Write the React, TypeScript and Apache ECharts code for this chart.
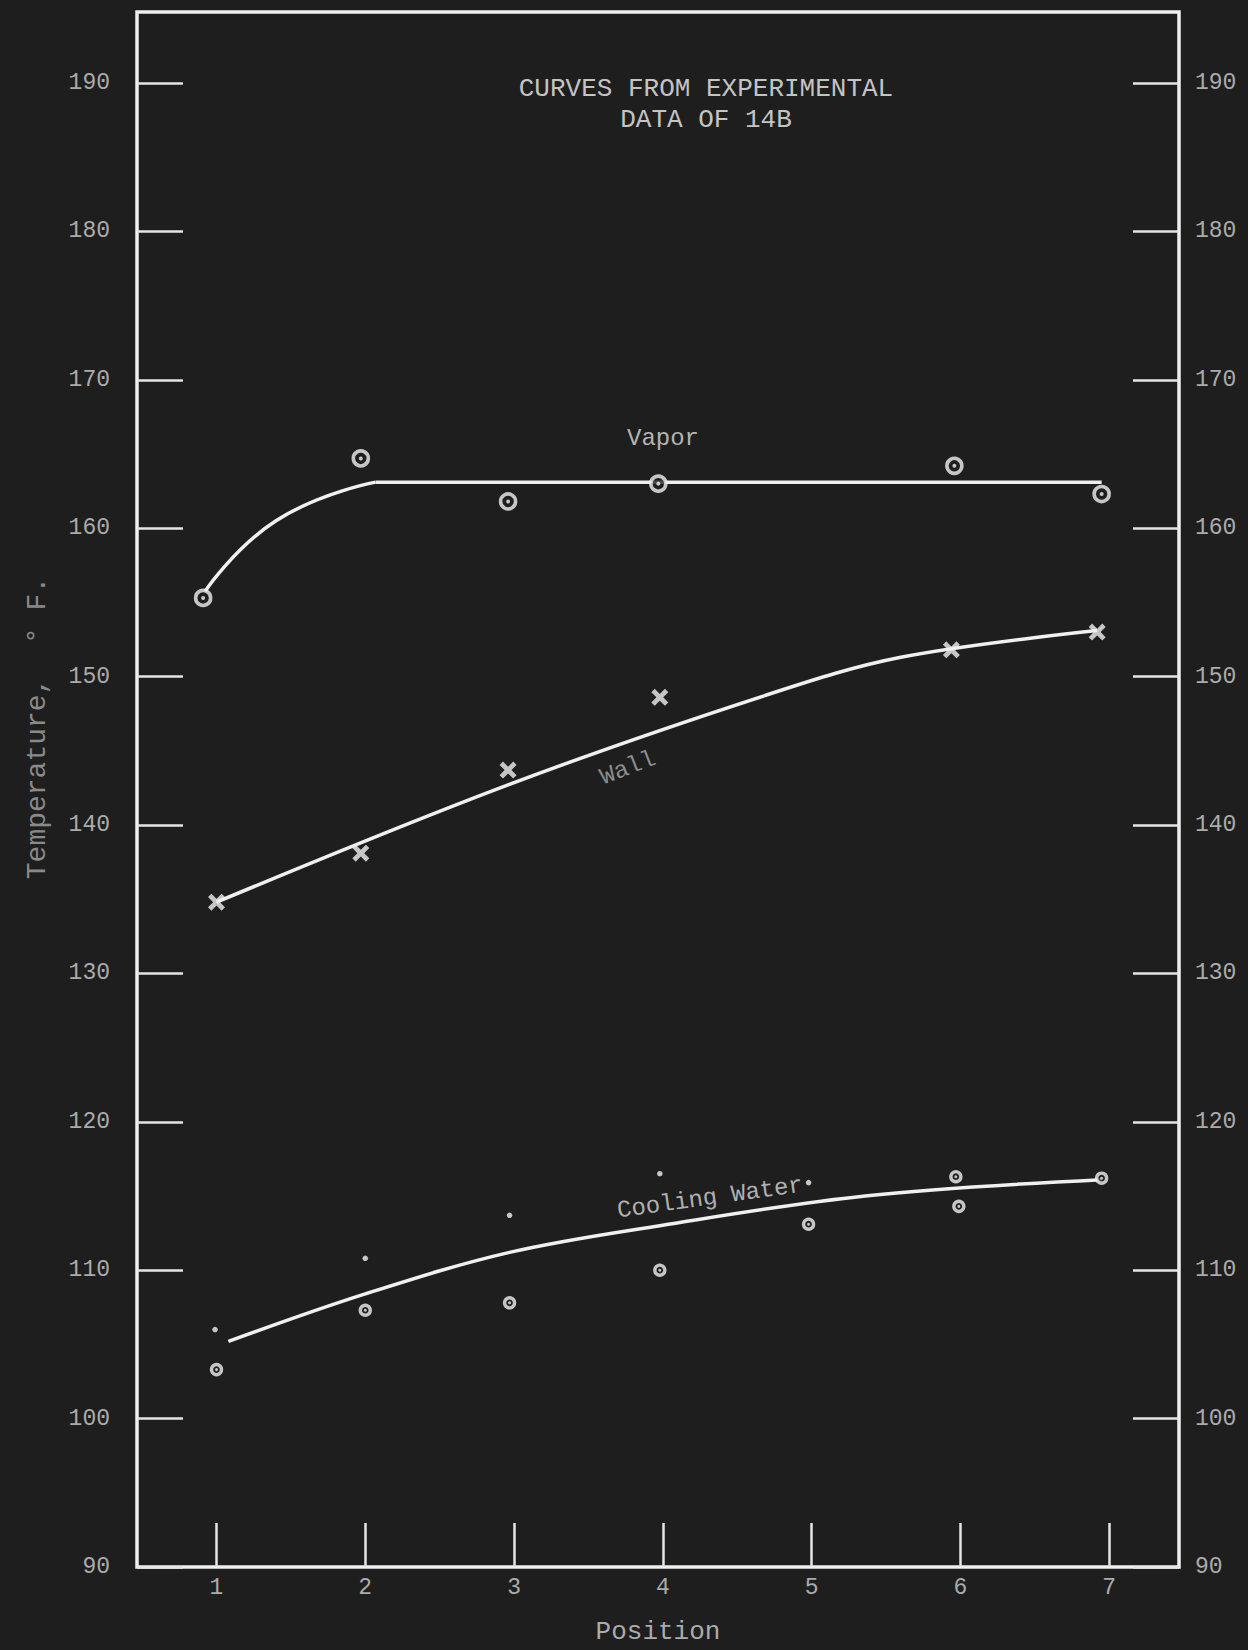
import React, { useEffect, useRef } from "react";
import * as echarts from "echarts";

// ---- tick labels ----
const positionTicks = [1, 2, 3, 4, 5, 6, 7];
const temperatureTicks = [90, 100, 110, 120, 130, 140, 150, 160, 170, 180, 190];

// ---- observed points [position, temperature °F] ----
const vaporPoints = [
  [0.91, 155.3],
  [1.97, 164.7],
  [2.96, 161.8],
  [3.97, 163.0],
  [5.96, 164.2],
  [6.95, 162.3],
];
const wallPoints = [
  [1.0, 134.8],
  [1.97, 138.1],
  [2.96, 143.7],
  [3.98, 148.6],
  [5.94, 151.8],
  [6.92, 153.0],
];
const coolingCircles = [
  [1.0, 103.3],
  [2.0, 107.3],
  [2.97, 107.8],
  [3.98, 110.0],
  [4.98, 113.1],
  [5.97, 116.3],
  [5.99, 114.3],
  [6.95, 116.2],
];
const coolingDots = [
  [0.99, 106.0],
  [2.0, 110.8],
  [2.97, 113.7],
  [3.98, 116.5],
  [4.98, 115.9],
];

// ---- hand-drawn curves ----
const vaporRise = [
  [0.92, 155.7],
  [1.4, 160.5],
  [2.07, 163.1],
];
const vaporFlat = [
  [2.07, 163.1],
  [6.95, 163.1],
];
const wallCurve = [
  [1.0, 134.8],
  [2.96, 142.7],
  [4.68, 148.7],
  [5.6, 151.3],
  [6.92, 153.1],
];
const coolingCurve = [
  [1.08, 105.2],
  [2.0, 108.4],
  [2.97, 111.2],
  [3.98, 113.0],
  [5.36, 115.0],
  [6.95, 116.1],
];

const BG = "#1e1e1e";
const LINE = "#f0f0f0";
const TICK = "#e6e6e6";
const LABEL = "#ababab";
const FONT = "'Liberation Mono', 'DejaVu Sans Mono', monospace";
const X_SYMBOL =
  "path://M0,2L2,0L5,3L8,0L10,2L7,5L10,8L8,10L5,7L2,10L0,8L3,5Z";

export default function App() {
  const ref = useRef<HTMLDivElement>(null);

  useEffect(() => {
    document.body.style.margin = "0";
    document.body.style.background = BG;
    if (!ref.current) return;
    const chart = echarts.init(ref.current, null, { renderer: "svg" });

    const yAxisCommon = {
      type: "value",
      min: 90,
      max: 194.78,
      axisLine: { show: false },
      splitLine: { show: false },
      axisTick: {
        show: true,
        inside: true,
        length: 46,
        customValues: temperatureTicks,
        lineStyle: { color: TICK, width: 2.5 },
      },
    };

    const curveLine = { color: LINE, width: 3.5 };

    const option = {
      animation: false,
      backgroundColor: BG,
      textStyle: { fontFamily: FONT },
      grid: {
        left: 137,
        right: 69,
        top: 12,
        bottom: 82,
        show: true,
        borderColor: LINE,
        borderWidth: 3.5,
        backgroundColor: "transparent",
      },
      xAxis: {
        type: "value",
        min: 0.4655,
        max: 7.47,
        name: "Position",
        nameLocation: "middle",
        nameGap: 52,
        nameTextStyle: { color: LABEL, fontSize: 26, fontFamily: FONT },
        axisLine: { show: false },
        splitLine: { show: false },
        axisTick: {
          show: true,
          inside: true,
          length: 44,
          customValues: positionTicks,
          lineStyle: { color: TICK, width: 2.5 },
        },
        axisLabel: {
          customValues: positionTicks,
          color: LABEL,
          fontSize: 23,
          margin: 9,
          fontFamily: FONT,
        },
      },
      yAxis: [
        {
          ...yAxisCommon,
          position: "left",
          axisLabel: {
            customValues: temperatureTicks,
            color: LABEL,
            fontSize: 23,
            margin: 27,
            padding: [14, 0, 0, 0],
            fontFamily: FONT,
          },
        },
        {
          ...yAxisCommon,
          position: "right",
          axisLabel: {
            customValues: temperatureTicks,
            color: LABEL,
            fontSize: 23,
            margin: 16,
            fontFamily: FONT,
          },
        },
      ],
      graphic: [
        {
          type: "text",
          x: 706,
          y: 104,
          style: {
            text: "CURVES FROM EXPERIMENTAL\nDATA OF 14B",
            fill: "#c4c4c4",
            font: `26px ${FONT}`,
            align: "center",
            verticalAlign: "middle",
            lineHeight: 31,
          },
        },
        {
          type: "text",
          x: 37,
          y: 728,
          rotation: Math.PI / 2,
          style: {
            text: "Temperature,  ° F.",
            fill: "#8a8a8a",
            font: `28px ${FONT}`,
            align: "center",
            verticalAlign: "middle",
          },
        },
        {
          type: "text",
          x: 663,
          y: 438,
          style: {
            text: "Vapor",
            fill: "#b4b4b4",
            font: `24px ${FONT}`,
            align: "center",
            verticalAlign: "middle",
          },
        },
        {
          type: "text",
          x: 628,
          y: 768,
          rotation: (21 * Math.PI) / 180,
          style: {
            text: "Wall",
            fill: "#8c8c8c",
            font: `24px ${FONT}`,
            align: "center",
            verticalAlign: "middle",
          },
        },
        {
          type: "text",
          x: 710,
          y: 1198,
          rotation: (8 * Math.PI) / 180,
          style: {
            text: "Cooling Water",
            fill: "#b0b0b0",
            font: `24px ${FONT}`,
            align: "center",
            verticalAlign: "middle",
          },
        },
      ],
      series: [
        {
          name: "Vapor curve (rise)",
          type: "line",
          data: vaporRise,
          smooth: 0.5,
          symbol: "none",
          silent: true,
          lineStyle: curveLine,
          z: 2,
        },
        {
          name: "Vapor curve (flat)",
          type: "line",
          data: vaporFlat,
          symbol: "none",
          silent: true,
          lineStyle: curveLine,
          z: 2,
        },
        {
          name: "Wall curve",
          type: "line",
          data: wallCurve,
          smooth: 0.35,
          symbol: "none",
          silent: true,
          lineStyle: curveLine,
          z: 2,
        },
        {
          name: "Cooling Water curve",
          type: "line",
          data: coolingCurve,
          smooth: 0.35,
          symbol: "none",
          silent: true,
          lineStyle: curveLine,
          z: 2,
        },
        {
          name: "Vapor",
          type: "scatter",
          data: vaporPoints,
          symbol: "circle",
          symbolSize: 15,
          itemStyle: { color: BG, borderColor: LINE, borderWidth: 3.6 },
          z: 3,
        },
        {
          name: "Vapor centre",
          type: "scatter",
          data: vaporPoints,
          symbol: "circle",
          symbolSize: 4,
          itemStyle: { color: LINE },
          z: 4,
        },
        {
          name: "Wall",
          type: "scatter",
          data: wallPoints,
          symbol: X_SYMBOL,
          symbolSize: 17,
          itemStyle: { color: LINE },
          z: 3,
        },
        {
          name: "Cooling Water",
          type: "scatter",
          data: coolingCircles,
          symbol: "circle",
          symbolSize: 10,
          itemStyle: { color: BG, borderColor: LINE, borderWidth: 3.4 },
          z: 3,
        },
        {
          name: "Cooling Water centre",
          type: "scatter",
          data: coolingCircles,
          symbol: "circle",
          symbolSize: 3,
          itemStyle: { color: LINE },
          z: 4,
        },
        {
          name: "Cooling Water (dots)",
          type: "scatter",
          data: coolingDots,
          symbol: "circle",
          symbolSize: 5.5,
          itemStyle: { color: LINE },
          z: 3,
        },
      ],
    };

    chart.setOption(option as any);
    return () => chart.dispose();
  }, []);

  return (
    <div
      ref={ref}
      style={{ width: 1248, height: 1650, background: BG }}
    />
  );
}
